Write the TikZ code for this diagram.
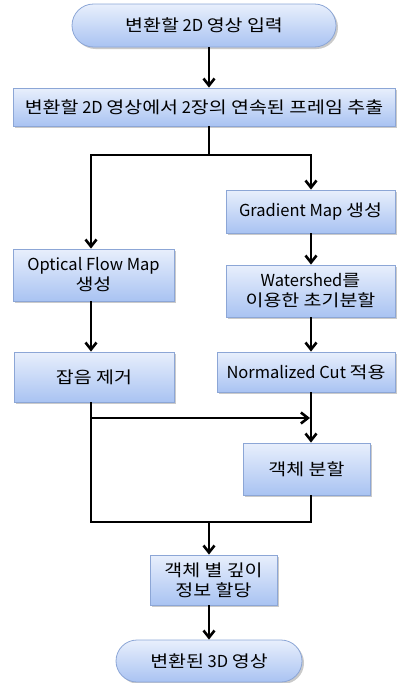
\documentclass[tikz,border=0pt]{standalone}
\usepackage{fontspec}
\setmainfont{Noto Sans CJK KR}
\newfontfamily\hgfont[FakeStretch=1.18]{Noto Sans CJK KR}
\newcommand\hg[1]{{\hgfont\fontsize{16.5}{20}\selectfont #1}}
\usetikzlibrary{arrows.meta,shapes.misc,shadows,calc}
\definecolor{boxtop}{HTML}{E8EFFC}
\definecolor{boxbot}{HTML}{A9C3F2}
\definecolor{boxline}{HTML}{8CA6D6}
\tikzset{
  flowbox/.style={rectangle, draw=boxline, line width=0.8pt, top color=boxtop, bottom color=boxbot,
    drop shadow={shadow xshift=2pt, shadow yshift=-2pt, opacity=0.35, fill=black!60},
    align=center, inner sep=0pt, font=\fontsize{16.5}{20}\selectfont},
  termbox/.style={flowbox, rounded rectangle},
  arr/.style={line width=2.6pt, -{Straight Barb[length=7pt,width=11pt,line width=2.6pt]}},
  ln/.style={line width=2.6pt}
}
\begin{document}
\begin{tikzpicture}[x=1pt,y=-1pt]
\useasboundingbox (0,0) rectangle (398,683);
\node[termbox, minimum width=264pt, minimum height=43pt] (t1) at (204,25.5) {\hg{변환할} 2D \hg{영상 입력}};
\node[flowbox, minimum width=382pt, minimum height=38pt] (b2) at (204,107) {\hg{변환할} 2D \hg{영상에서} 2\hg{장의 연속된 프레임 추출}};
\node[flowbox, minimum width=169pt, minimum height=43pt] (grad) at (310.5,211.5) {Gradient Map \hg{생성}};
\node[flowbox, minimum width=169pt, minimum height=52pt] (water) at (310.5,291) {Watershed\hg{를}\\\hg{이용한 초기분할}};
\node[flowbox, minimum width=161pt, minimum height=52pt] (opt) at (93.5,275) {Optical Flow Map\\\hg{생성}};
\node[flowbox, minimum width=160pt, minimum height=50pt] (noise) at (94,377) {\hg{잡음 제거}};
\node[flowbox, minimum width=178pt, minimum height=40pt] (nc) at (306,372) {Normalized Cut \hg{적용}};
\node[flowbox, minimum width=127pt, minimum height=52pt] (seg) at (306.5,469) {\hg{객체 분할}};
\node[flowbox, minimum width=127pt, minimum height=50pt] (depth) at (213.5,580) {\hg{객체 별 깊이}\\\hg{정보 할당}};
\node[termbox, minimum width=186pt, minimum height=42pt] (t2) at (209,661) {\hg{변환된} 3D \hg{영상}};
\coordinate (T) at (209,0);
\coordinate (L) at (91,0);
\coordinate (R) at (311,0);
\coordinate (sp) at (209,155);
\coordinate (j1) at (310,418);
\coordinate (m) at (209,522);
\draw[arr] (t1.south -| T) -- (b2.north -| T);
\draw[ln] (b2.south -| T) -- (sp);
\draw[arr] (sp) -| (opt.north -| L);
\draw[arr] (sp) -| (grad.north -| R);
\draw[arr] (grad.south -| R) -- (water.north -| R);
\draw[arr] (opt.south -| L) -- (noise.north -| L);
\draw[arr] (water.south -| R) -- (nc.north -| R);
\draw[arr] (noise.south -| L) |- (j1);
\draw[arr] (nc.south -| R) -- (seg.north -| R);
\draw[ln] (noise.south -| L) |- (m) -| (seg.south -| R);
\draw[arr] (m) -- (depth.north -| m);
\draw[arr] (depth.south -| m) -- (t2.north -| m);
\end{tikzpicture}
\end{document}
